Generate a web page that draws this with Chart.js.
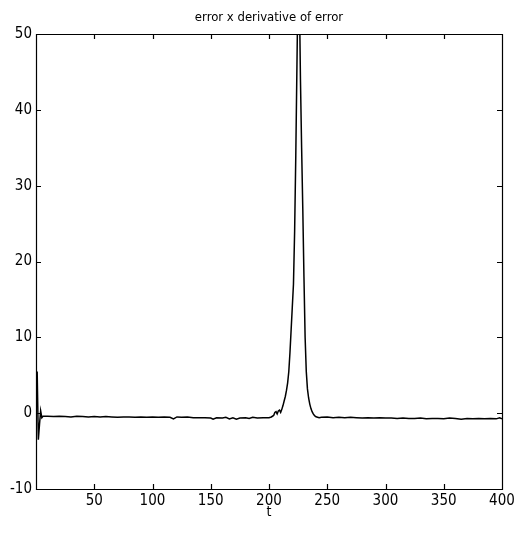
<!DOCTYPE html>
<html>
<head>
<meta charset="utf-8">
<title>error x derivative of error</title>
<script src="https://cdn.jsdelivr.net/npm/chart.js@4.4.1/dist/chart.umd.min.js"></script>
<style>
    html, body { margin: 0; padding: 0; background: #fff; }
    canvas { display: block; }
</style>
</head>
<body>
<canvas id="errChart" width="523" height="533"></canvas>
<script>
// data (t, nilai)
const tValues = [
    1, 2, 3, 4, 5, 6, 10, 15, 20, 25, 30, 35, 40, 45, 50, 55, 60, 65, 70, 75,
    80, 85, 90, 95, 100, 105, 110, 115, 118, 121, 125, 130, 135, 140, 145, 150,
    152, 155, 160, 163, 166, 169, 172, 175, 180, 183, 186, 190, 195, 200, 202,
    204, 205, 206, 207, 208, 209, 210, 211, 212, 213, 214, 215, 216, 217, 218,
    219, 220, 221, 222, 223, 224, 225, 226, 227, 228, 229, 230, 231, 232, 233,
    234, 235, 236, 237, 238, 239, 240, 241, 243, 245, 250, 255, 260, 265, 270,
    275, 280, 285, 290, 295, 300, 305, 310, 315, 320, 325, 330, 335, 340, 345,
    350, 355, 360, 365, 370, 375, 380, 385, 390, 395, 398, 400
]
const errValues = [
    5.5, -3.5, -1.5, 0.3, -0.6, -0.4, -0.4, -0.45, -0.4, -0.45, -0.5, -0.4, -0.45,
    -0.5, -0.45, -0.5, -0.45, -0.5, -0.55, -0.5, -0.5, -0.55, -0.5, -0.55, -0.5,
    -0.55, -0.5, -0.55, -0.75, -0.5, -0.55, -0.5, -0.6, -0.6, -0.6, -0.65, -0.8,
    -0.6, -0.65, -0.55, -0.75, -0.6, -0.8, -0.65, -0.6, -0.7, -0.55, -0.65, -0.6,
    -0.6, -0.5, -0.3, 0.1, 0.2, -0.1, 0.3, 0.4, 0.1, 0.5, 1.0, 1.6, 2.2, 3.0,
    4.0, 5.5, 8, 11, 14, 17, 24, 34, 46, 58, 56, 44, 35, 27, 18, 10, 5.5, 3.2,
    2.0, 1.2, 0.6, 0.2, -0.1, -0.3, -0.45, -0.5, -0.6, -0.55, -0.5, -0.6, -0.55,
    -0.6, -0.55, -0.6, -0.65, -0.6, -0.65, -0.6, -0.65, -0.65, -0.7, -0.65, -0.7,
    -0.7, -0.65, -0.75, -0.7, -0.7, -0.75, -0.65, -0.7, -0.8, -0.7, -0.75, -0.7,
    -0.75, -0.7, -0.75, -0.6, -0.75
]
const xTickValues = [50, 100, 150, 200, 250, 300, 350, 400]
const yTickValues = [-10, 0, 10, 20, 30, 40, 50]

;(function () {
    const fontFamily = "'Liberation Sans Narrow', 'DejaVu Sans Condensed', 'Liberation Sans', sans-serif"
    const points = tValues.map((t, i) => ({ x: t, y: errValues[i] }))

    // kotak + tick ke dalam (gaya matlab)
    const frameTicks = {
        id: 'frameTicks',
        afterDraw(chart) {
            const { ctx, chartArea: a, scales } = chart
            const len = 5
            ctx.save()
            ctx.strokeStyle = '#000'
            ctx.lineWidth = 1.2
            ctx.beginPath()
            ctx.rect(Math.round(a.left) + 0.5, Math.round(a.top) + 0.5,
                Math.round(a.right - a.left), Math.round(a.bottom - a.top))
            xTickValues.forEach((v) => {
                const px = Math.round(scales.x.getPixelForValue(v)) + 0.5
                ctx.moveTo(px, a.bottom)
                ctx.lineTo(px, a.bottom - len)
                ctx.moveTo(px, a.top)
                ctx.lineTo(px, a.top + len)
            })
            yTickValues.forEach((v) => {
                const py = Math.round(scales.y.getPixelForValue(v)) + 0.5
                ctx.moveTo(a.left, py)
                ctx.lineTo(a.left + len, py)
                ctx.moveTo(a.right, py)
                ctx.lineTo(a.right - len, py)
            })
            ctx.stroke()
            ctx.restore()
        }
    }

    new Chart(document.getElementById('errChart'), {
        type: 'line',
        data: {
            datasets: [
                {
                    data: points,
                    borderColor: '#000',
                    borderWidth: 1.5,
                    pointRadius: 0,
                    tension: 0,
                    fill: false
                }
            ]
        },
        options: {
            responsive: false,
            animation: false,
            devicePixelRatio: 1,
            layout: { padding: { left: 0, right: 21, top: 0, bottom: 0 } },
            plugins: {
                legend: { display: false },
                tooltip: { enabled: false },
                title: {
                    display: true,
                    text: 'error x derivative of error',
                    color: '#000',
                    fullSize: false,
                    font: { family: fontFamily, size: 13, weight: 'normal', lineHeight: 1.2 },
                    padding: { top: 10, bottom: 8.4 }
                }
            },
            scales: {
                x: {
                    type: 'linear',
                    min: 0,
                    max: 400,
                    afterBuildTicks: (s) => {
                        s.ticks = xTickValues.map((v) => ({ value: v }))
                    },
                    afterFit: (s) => { s.height = 44 },
                    grid: { display: false, drawTicks: false },
                    border: { display: false },
                    ticks: {
                        color: '#000',
                        padding: 3,
                        maxRotation: 0,
                        font: { family: fontFamily, size: 15 }
                    },
                    title: {
                        display: true,
                        text: 't',
                        color: '#000',
                        font: { family: fontFamily, size: 14 },
                        padding: { top: 0, bottom: 12 }
                    }
                },
                y: {
                    type: 'linear',
                    min: -10,
                    max: 50,
                    afterBuildTicks: (s) => {
                        s.ticks = yTickValues.map((v) => ({ value: v }))
                    },
                    afterFit: (s) => { s.width = 36 },
                    grid: { display: false, drawTicks: false },
                    border: { display: false },
                    ticks: {
                        color: '#000',
                        padding: 4,
                        font: { family: fontFamily, size: 15 }
                    }
                }
            }
        },
        plugins: [frameTicks]
    })
})()
</script>
</body>
</html>
